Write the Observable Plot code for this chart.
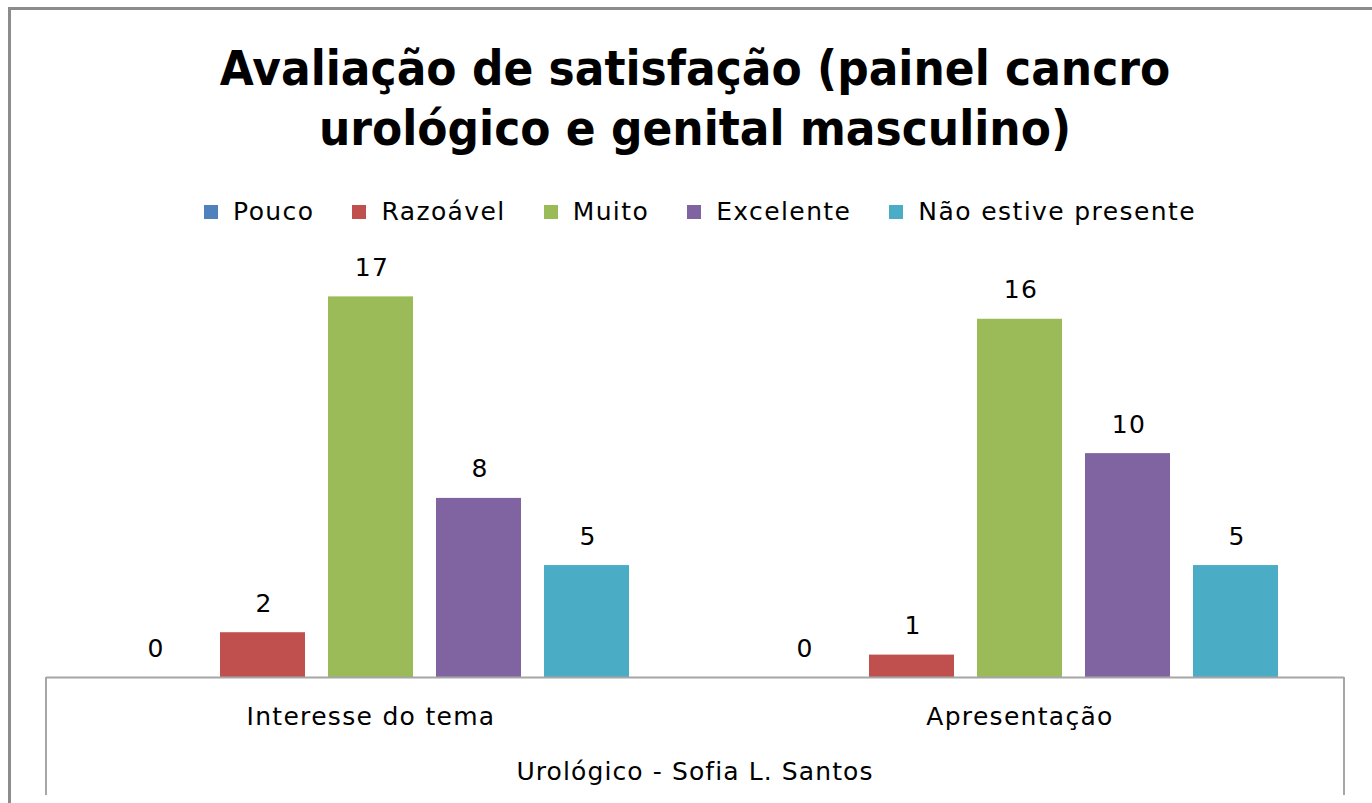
<!DOCTYPE html>
<html>
<head>
<meta charset="utf-8">
<script src="https://cdn.jsdelivr.net/npm/d3@7"></script>
<script src="https://cdn.jsdelivr.net/npm/@observablehq/plot@0.6"></script>
<style>
  html, body { margin: 0; padding: 0; background: #fff; }
  body { width: 1372px; height: 803px; overflow: hidden; position: relative; font-family: "DejaVu Sans", sans-serif; color: #000; }
  #frame { position: absolute; left: 8px; top: 7px; width: 1420px; height: 900px; border-left: 3px solid #8c8c8c; border-top: 3px solid #8c8c8c; box-sizing: border-box; }
  #header { position: relative; height: 250px; }
  .title { position: absolute; left: 0; width: 1390px; text-align: center; font-weight: bold; font-size: 48px; line-height: 60px; white-space: nowrap; transform: scaleX(0.917); transform-origin: 695px 0; }
  #legend { position: absolute; left: 0; width: 1400px; top: 197px; display: flex; justify-content: center; gap: 38px; font-size: 25px; letter-spacing: 1.4px; line-height: 30px; }
  .item { display: flex; align-items: center; gap: 15px; white-space: nowrap; }
  .sw { width: 14px; height: 14px; display: inline-block; }
  #chart { position: absolute; left: 0; top: 250px; }
  .vline { position: absolute; top: 677px; height: 118px; width: 0; border-left: 2px solid #a6a6a6; }
  #caption { position: absolute; left: 0; width: 1390px; top: 757px; text-align: center; font-size: 25px; letter-spacing: 1.1px; line-height: 30px; white-space: nowrap; }
</style>
</head>
<body>
<div id="frame"></div>
<div id="header">
  <div class="title" id="t1" style="top:38px"></div>
  <div class="title" id="t2" style="top:98px"></div>
  <div id="legend"></div>
</div>
<div id="chart"></div>
<div class="vline" style="left:45px"></div>
<div class="vline" style="left:1343px"></div>
<div id="caption"></div>
<script>
const titleLines = ["Avaliação de satisfação (painel cancro", "urológico e genital masculino)"];
const categories = ["Interesse do tema", "Apresentação"];
const series = ["Pouco", "Razoável", "Muito", "Excelente", "Não estive presente"];
const interesseValues = [0, 2, 17, 8, 5];
const apresentacaoValues = [0, 1, 16, 10, 5];
const seriesColors = ["#4F81BD", "#C0504D", "#9BBB59", "#8064A2", "#4BACC6"];
const groupLabel = "Urológico - Sofia L. Santos";

document.getElementById("t1").textContent = titleLines[0];
document.getElementById("t2").textContent = titleLines[1];
document.getElementById("caption").textContent = groupLabel;

const legend = document.getElementById("legend");
series.forEach((s, i) => {
  const it = document.createElement("div");
  it.className = "item";
  const sw = document.createElement("span");
  sw.className = "sw";
  sw.style.background = seriesColors[i];
  const lb = document.createElement("span");
  lb.textContent = s;
  it.appendChild(sw); it.appendChild(lb);
  legend.appendChild(it);
});

const valuesByCategory = [interesseValues, apresentacaoValues];
const data = categories.flatMap((c, i) => series.map((s, j) => ({category: c, series: s, value: valuesByCategory[i][j]})));

const chart = Plot.plot({
  width: 1372,
  height: 500,
  marginLeft: 46,
  marginRight: 28,
  marginTop: 24,
  marginBottom: 73,
  style: {fontSize: "25px", letterSpacing: "1.3px", fontFamily: "DejaVu Sans, sans-serif", color: "#000", background: "transparent"},
  fx: {domain: categories, padding: 0, label: null, tickSize: 0, tickPadding: 30, axis: "bottom"},
  x: {domain: series, paddingInner: 0.215, paddingOuter: 0.604, axis: null},
  y: {domain: [0, 18], axis: null},
  color: {domain: series, range: seriesColors},
  marks: [
    Plot.barY(data, {fx: "category", x: "series", y: "value", fill: "series"}),
    Plot.ruleY([0], {stroke: "#a6a6a6", strokeWidth: 2}),
    Plot.text(data, {fx: "category", x: "series", y: "value", text: d => String(d.value), dy: -29, dx: 1, fill: "#000", fontSize: 25})
  ]
});
document.getElementById("chart").appendChild(chart);
</script>
</body>
</html>
